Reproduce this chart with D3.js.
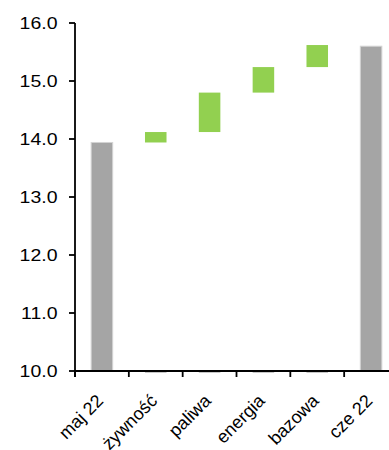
<!DOCTYPE html>
<html>
<head>
<meta charset="utf-8">
<script src="https://cdn.jsdelivr.net/npm/d3@7"></script>
<style>
  html, body { margin: 0; padding: 0; background: #fff; }
  svg { display: block; }
  text { font-family: "Liberation Sans", Arial, sans-serif; fill: #000; }
</style>
</head>
<body>
<svg id="chart" width="389" height="450"></svg>
<script>
// Inflation decomposition: starting level, component contributions, ending level
const categories = ["maj 22", "żywność", "paliwa", "energia", "bazowa", "cze 22"];
const values     = [13.94, 0.18, 0.68, 0.44, 0.38, 15.6];
const isTotal    = [true, false, false, false, false, true];
const yTicks     = [10, 11, 12, 13, 14, 15, 16];

const W = 389, H = 450;
const plotLeft = 75, plotRight = 398, plotTop = 23, plotBottom = 371;
const stretch = 1.18;
const fontSize = 16.5;

const svg = d3.select("#chart");

// Build floating segments for the waterfall
let running = 0;
const bars = categories.map((c, i) => {
  let from, to;
  if (isTotal[i]) { from = 10; to = values[i]; running = values[i]; }
  else { from = running; to = running + values[i]; running = to; }
  return { cat: c, from, to, total: isTotal[i] };
});

const x = d3.scaleBand().domain(categories).range([plotLeft, plotRight])
  .paddingInner(0.6).paddingOuter(0.3);
const y = d3.scaleLinear().domain([10, 16]).range([plotBottom, plotTop]);

// Bars
svg.append("g").selectAll("rect").data(bars).join("rect")
  .attr("x", d => x(d.cat))
  .attr("width", x.bandwidth())
  .attr("y", d => y(Math.max(d.from, d.to)))
  .attr("height", d => Math.abs(y(d.from) - y(d.to)))
  .attr("fill", d => d.total ? "#a5a5a5" : "#92d050")
  .attr("stroke", d => d.total ? "#d4d4d4" : "none")
  .attr("stroke-width", 1);

// Faint base edges of the hidden offset bars
svg.append("g").selectAll("line").data(bars.filter(d => !d.total)).join("line")
  .attr("x1", d => x(d.cat)).attr("x2", d => x(d.cat) + x.bandwidth())
  .attr("y1", plotBottom + 1.5).attr("y2", plotBottom + 1.5)
  .attr("stroke", "#c8c8c8").attr("stroke-width", 1);

// Y axis
const yAxis = svg.append("g").attr("transform", `translate(${plotLeft},0)`);
yAxis.append("line").attr("x1", 0).attr("x2", 0).attr("y1", plotTop).attr("y2", plotBottom + 6)
  .attr("stroke", "#000").attr("stroke-width", 1.8);
const yt = yAxis.selectAll("g.tick").data(yTicks).join("g")
  .attr("class", "tick").attr("transform", d => `translate(0,${y(d)})`);
yt.append("line").attr("x1", -6).attr("x2", 0).attr("stroke", "#000").attr("stroke-width", 1.8);
yt.append("text")
  .attr("transform", `translate(-17.5,0) scale(${stretch},1)`)
  .attr("text-anchor", "end").attr("dy", "0.36em")
  .style("font-size", fontSize + "px")
  .text(d => d3.format(".1f")(d));

// X axis
const xAxis = svg.append("g");
xAxis.append("line").attr("x1", plotLeft).attr("x2", W).attr("y1", plotBottom).attr("y2", plotBottom)
  .attr("stroke", "#000").attr("stroke-width", 1.8);
const step = x.step();
const boundaries = d3.range(categories.length).map(i => plotLeft + i * step);
xAxis.selectAll("line.tk").data(boundaries).join("line").attr("class", "tk")
  .attr("x1", d => d).attr("x2", d => d).attr("y1", plotBottom).attr("y2", plotBottom + 6)
  .attr("stroke", "#000").attr("stroke-width", 1.8);
xAxis.selectAll("text").data(categories).join("text")
  .attr("transform", d => `translate(${x(d) + x.bandwidth() / 2 + 2.5},${plotBottom + 31}) rotate(-45)`)
  .attr("text-anchor", "end")
  .style("font-size", "18px")
  .text(d => d);
</script>
</body>
</html>
